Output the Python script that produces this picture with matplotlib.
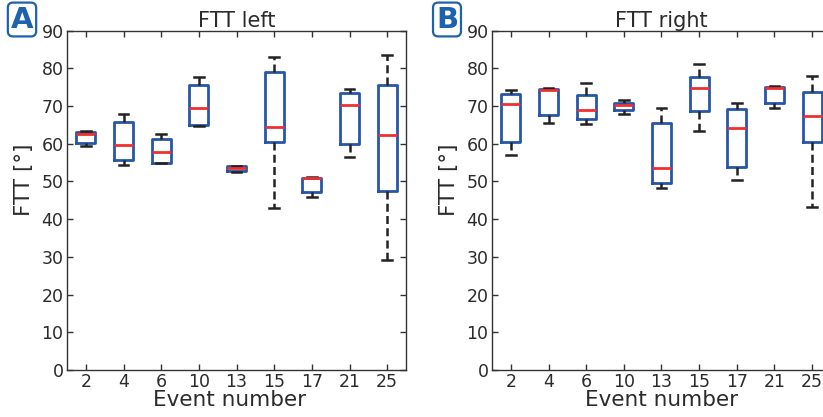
import matplotlib
matplotlib.use("Agg")
import matplotlib.pyplot as plt

events = ["2", "4", "6", "10", "13", "15", "17", "21", "25"]

# Five-number summaries per event (whisker low, Q1, median, Q3, whisker high)
left_whislo = [59.5, 54.3, 54.8, 64.8, 52.4, 43.1, 45.8, 56.5, 29.3]
left_q1 = [60.3, 55.6, 55.0, 65.0, 52.75, 60.6, 47.1, 59.9, 47.5]
left_med = [62.5, 59.6, 57.7, 69.4, 53.55, 64.5, 50.8, 70.3, 62.3]
left_q3 = [63.1, 65.8, 61.2, 75.6, 54.0, 79.0, 51.0, 73.4, 75.6]
left_whishi = [63.3, 67.9, 62.5, 77.8, 54.1, 82.9, 51.2, 74.5, 83.6]

right_whislo = [57.1, 65.5, 65.3, 67.8, 48.2, 63.4, 50.4, 69.6, 43.3]
right_q1 = [60.4, 67.7, 66.7, 69.0, 49.7, 68.8, 53.8, 70.8, 60.5]
right_med = [70.6, 74.4, 68.9, 70.2, 53.7, 74.7, 64.2, 74.8, 67.4]
right_q3 = [73.3, 74.6, 73.0, 70.9, 65.5, 77.7, 69.3, 75.0, 73.7]
right_whishi = [74.3, 74.7, 76.2, 71.5, 69.4, 81.2, 70.8, 75.2, 78.0]

titles = ["FTT left", "FTT right"]
panel_letters = ["A", "B"]

BOX_BLUE = "#2756a8"
MED_RED = "#ee3030"
LETTER_BLUE = "#1d62ad"
TEXT = "#2b2b2b"

plt.rcParams["font.family"] = ["DejaVu Sans"]

fig = plt.figure(figsize=(8.23, 4.17), dpi=100)
W, H = 823, 417


def px_axes(x0, y_top, w, h):
    return fig.add_axes([x0 / W, 1 - (y_top + h) / H, w / W, h / H])


ax_left = px_axes(67, 30.7, 339, 339.3)
ax_right = px_axes(492, 30.7, 339, 339.3)

panels = [
    (ax_left, left_whislo, left_q1, left_med, left_q3, left_whishi, 0.479),
    (ax_right, right_whislo, right_q1, right_med, right_q3, right_whishi, 0.5),
]

for i, (ax, lo, q1, med, q3, hi, xlab_x) in enumerate(panels):
    stats = [
        dict(whislo=a, q1=b, med=c, q3=d, whishi=e, fliers=[], label=lab)
        for a, b, c, d, e, lab in zip(lo, q1, med, q3, hi, events)
    ]
    ax.bxp(
        stats,
        positions=range(1, len(events) + 1),
        widths=0.5,
        showfliers=False,
        boxprops=dict(color=BOX_BLUE, linewidth=2.0),
        medianprops=dict(color=MED_RED, linewidth=2.0),
        whiskerprops=dict(color="#222222", linewidth=1.8, linestyle=(0, (3.2, 1.7))),
        capprops=dict(color="#222222", linewidth=1.8),
    )
    ax.set_xlim(0.5, len(events) + 0.5)
    ax.set_ylim(0, 90)
    ax.set_yticks(range(0, 91, 10))
    ax.set_xticks(range(1, len(events) + 1))
    ax.set_xticklabels(events)
    ax.tick_params(direction="in", top=True, right=True, length=4, width=1,
                   color="#333333", labelcolor=TEXT, labelsize=12.5, pad=2.5)
    for s in ax.spines.values():
        s.set_color("#333333")
        s.set_linewidth(1.0)
    ax.set_title(titles[i], fontsize=15, color=TEXT, pad=3)
    ax.set_xlabel("Event number", fontsize=15.5, color=TEXT, labelpad=-1)
    ax.xaxis.label.set_x(xlab_x)
    ax.set_ylabel("FTT [°]", fontsize=15.5, color=TEXT)
    ax.yaxis.set_label_coords(-0.098, 0.56)

# Panel letters in rounded boxes
for x, letter in [(22, "A"), (447, "B")]:
    fig.text(x / W, 1 - 19.5 / H, letter, fontsize=21, fontweight="bold",
             color=LETTER_BLUE, ha="center", va="center",
             bbox=dict(boxstyle="round,pad=0.1,rounding_size=0.18",
                       facecolor="white", edgecolor=LETTER_BLUE, linewidth=1.6))

fig.savefig("out.png", dpi=100)
